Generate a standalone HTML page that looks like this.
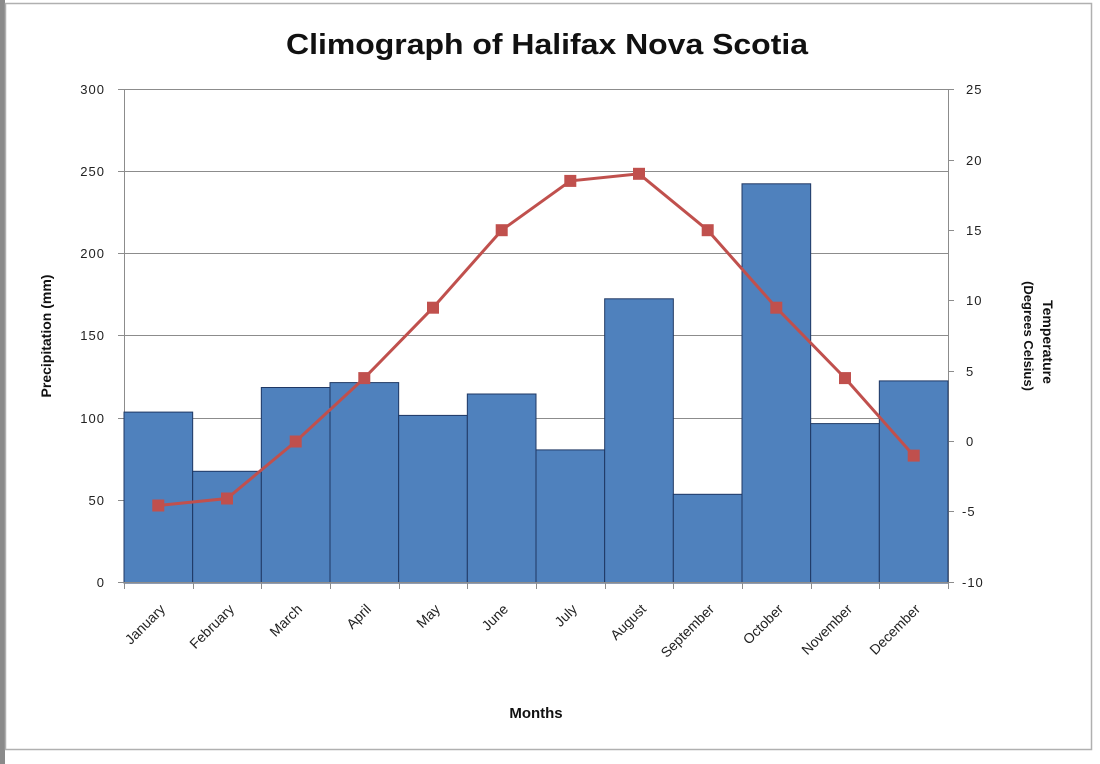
<!DOCTYPE html>
<html><head><meta charset="utf-8"><style>
html,body{margin:0;padding:0;background:#fff;}
svg{display:block;font-family:"Liberation Sans","DejaVu Sans",sans-serif;}
</style></head><body>
<svg width="1100" height="764" viewBox="0 0 1100 764" xmlns="http://www.w3.org/2000/svg">
<rect x="0" y="0" width="1100" height="764" fill="#fff"/>
<rect x="0" y="0" width="5" height="764" fill="#8a8a8a"/>
<rect x="5.5" y="3.5" width="1086" height="746" fill="#fff" stroke="#b0b0b0" stroke-width="1.5"/>
<text x="547" y="54" font-size="29" font-weight="bold" text-anchor="middle" fill="#111" textLength="522" lengthAdjust="spacingAndGlyphs">Climograph of Halifax Nova Scotia</text>
<g stroke="#8c8c8c" stroke-width="1">
<line x1="118" y1="89.5" x2="948" y2="89.5"/>
<line x1="118" y1="171.5" x2="948" y2="171.5"/>
<line x1="118" y1="253.5" x2="948" y2="253.5"/>
<line x1="118" y1="335.5" x2="948" y2="335.5"/>
<line x1="118" y1="418.5" x2="948" y2="418.5"/>
<line x1="118" y1="500.5" x2="948" y2="500.5"/>
<line x1="124.5" y1="89" x2="124.5" y2="582"/>
<line x1="948.5" y1="89" x2="948.5" y2="582"/>
<line x1="948" y1="89.5" x2="954" y2="89.5"/>
<line x1="948" y1="160.5" x2="954" y2="160.5"/>
<line x1="948" y1="230.5" x2="954" y2="230.5"/>
<line x1="948" y1="300.5" x2="954" y2="300.5"/>
<line x1="948" y1="371.5" x2="954" y2="371.5"/>
<line x1="948" y1="441.5" x2="954" y2="441.5"/>
<line x1="948" y1="511.5" x2="954" y2="511.5"/>
<line x1="948" y1="582.5" x2="954" y2="582.5"/>
</g>
<g fill="#4f81bd" stroke="#1f3864" stroke-width="1">
<rect x="124" y="412.1" width="68.67" height="170.9"/>
<rect x="192.67" y="471.3" width="68.67" height="111.7"/>
<rect x="261.33" y="387.5" width="68.67" height="195.5"/>
<rect x="330" y="382.6" width="68.67" height="200.4"/>
<rect x="398.67" y="415.4" width="68.67" height="167.6"/>
<rect x="467.33" y="394.0" width="68.67" height="189.0"/>
<rect x="536" y="449.9" width="68.67" height="133.1"/>
<rect x="604.67" y="298.8" width="68.67" height="284.2"/>
<rect x="673.33" y="494.3" width="68.67" height="88.7"/>
<rect x="742" y="183.8" width="68.67" height="399.2"/>
<rect x="810.67" y="423.6" width="68.67" height="159.4"/>
<rect x="879.33" y="380.9" width="68.67" height="202.1"/>
</g>
<line x1="118" y1="582.5" x2="948" y2="582.5" stroke="#8c8c8c"/>
<g stroke="#8c8c8c">
<line x1="124.5" y1="582" x2="124.5" y2="589"/><line x1="193.5" y1="582" x2="193.5" y2="589"/><line x1="261.5" y1="582" x2="261.5" y2="589"/><line x1="330.5" y1="582" x2="330.5" y2="589"/><line x1="399.5" y1="582" x2="399.5" y2="589"/><line x1="467.5" y1="582" x2="467.5" y2="589"/><line x1="536.5" y1="582" x2="536.5" y2="589"/><line x1="605.5" y1="582" x2="605.5" y2="589"/><line x1="673.5" y1="582" x2="673.5" y2="589"/><line x1="742.5" y1="582" x2="742.5" y2="589"/><line x1="811.5" y1="582" x2="811.5" y2="589"/><line x1="879.5" y1="582" x2="879.5" y2="589"/><line x1="948.5" y1="582" x2="948.5" y2="589"/>
</g>
<polyline fill="none" stroke="#c0504d" stroke-width="3" points="158.3,505.5 227,498.5 295.7,441.5 364.3,378.1 433,307.7 501.7,230.2 570.3,180.9 639,173.8 707.7,230.2 776.3,307.7 845,378.1 913.7,455.6"/>
<g fill="#c0504d">
<rect x="152.3" y="499.5" width="12" height="12"/><rect x="221" y="492.5" width="12" height="12"/><rect x="289.7" y="435.5" width="12" height="12"/><rect x="358.3" y="372.1" width="12" height="12"/><rect x="427" y="301.7" width="12" height="12"/><rect x="495.7" y="224.2" width="12" height="12"/><rect x="564.3" y="174.9" width="12" height="12"/><rect x="633" y="167.8" width="12" height="12"/><rect x="701.7" y="224.2" width="12" height="12"/><rect x="770.3" y="301.7" width="12" height="12"/><rect x="839" y="372.1" width="12" height="12"/><rect x="907.7" y="449.6" width="12" height="12"/>
</g>
<g font-size="13" fill="#222" text-anchor="end" letter-spacing="1">
<text x="105" y="94">300</text><text x="105" y="176">250</text><text x="105" y="258">200</text><text x="105" y="340">150</text><text x="105" y="423">100</text><text x="105" y="505">50</text><text x="105" y="587">0</text>
</g>
<g font-size="13" fill="#222" text-anchor="start" letter-spacing="1">
<text x="966" y="94">25</text><text x="966" y="165">20</text><text x="966" y="235">15</text><text x="966" y="305">10</text><text x="966" y="376">5</text><text x="966" y="446">0</text><text x="962" y="516">-5</text><text x="962" y="587">-10</text>
</g>
<g font-size="14" fill="#222" text-anchor="end">
<text transform="translate(166,610) rotate(-45)">January</text>
<text transform="translate(235,610) rotate(-45)">February</text>
<text transform="translate(303,610) rotate(-45)">March</text>
<text transform="translate(372,610) rotate(-45)">April</text>
<text transform="translate(441,610) rotate(-45)">May</text>
<text transform="translate(509,610) rotate(-45)">June</text>
<text transform="translate(578,610) rotate(-45)">July</text>
<text transform="translate(647,610) rotate(-45)">August</text>
<text transform="translate(715,610) rotate(-45)">September</text>
<text transform="translate(784,610) rotate(-45)">October</text>
<text transform="translate(853,610) rotate(-45)">November</text>
<text transform="translate(921,610) rotate(-45)">December</text>
</g>
<text x="536" y="718" font-size="15" font-weight="bold" text-anchor="middle" fill="#111">Months</text>
<text transform="translate(51,336) rotate(-90)" font-size="14" font-weight="bold" text-anchor="middle" fill="#111">Precipitation (mm)</text>
<text transform="translate(1043,342) rotate(90)" font-size="14" font-weight="bold" text-anchor="middle" fill="#111">Temperature</text>
<text transform="translate(1024,336) rotate(90)" font-size="13" font-weight="bold" text-anchor="middle" fill="#111">(Degrees Celsius)</text>
</svg>
</body></html>
